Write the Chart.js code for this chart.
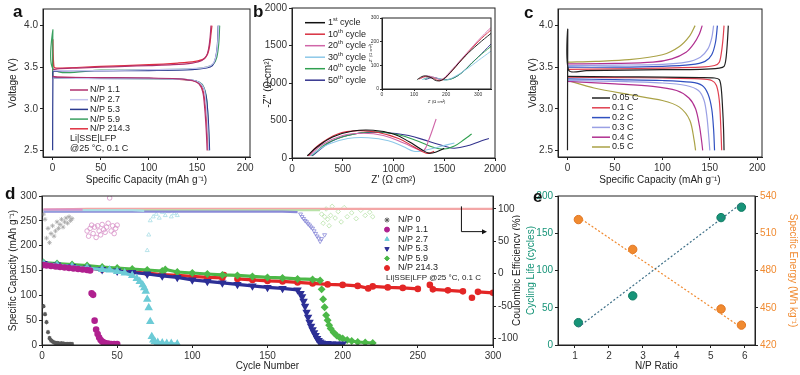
<!DOCTYPE html>
<html>
<head>
<meta charset="utf-8">
<script src="https://cdn.jsdelivr.net/npm/chart.js@4.4.0/dist/chart.umd.min.js"></script>
<style>
  body { margin: 0; background: #fff; width: 800px; height: 375px; overflow: hidden; position: relative; font-family: 'Liberation Sans', Arial, sans-serif; }
  .p { position: absolute; }
  .lbl { position: absolute; font-weight: bold; font-size: 17px; line-height: 17px; color: #111; }
</style>
</head>
<body>
<div class="p" style="left:0;top:0;width:258px;height:190px"><canvas id="ca"></canvas></div>
<div class="p" style="left:258px;top:0;width:262px;height:190px"><canvas id="cb"></canvas></div>
<div class="p" style="left:368px;top:14px;width:130px;height:90px"><canvas id="cbi"></canvas></div>
<div class="p" style="left:520px;top:0;width:280px;height:190px"><canvas id="cc"></canvas></div>
<div class="p" style="left:0;top:186px;width:520px;height:189px"><canvas id="cd"></canvas></div>
<div class="p" style="left:520px;top:186px;width:280px;height:189px"><canvas id="ce"></canvas></div>
<div class="lbl" style="left:13px;top:3px">a</div>
<div class="lbl" style="left:253px;top:3px">b</div>
<div class="lbl" style="left:524px;top:4px">c</div>
<div class="lbl" style="left:5px;top:185px">d</div>
<div class="lbl" style="left:533px;top:188px">e</div>
<script>
// ---------- data ----------
// panel a: 0.1 C charge / discharge curves, [capacity mAh/g, voltage V]
const aLabels = ['N/P 1.1', 'N/P 2.7', 'N/P 5.3', 'N/P 5.9', 'N/P 214.3'];
const aChg11 = [[0.5,3.47],[5,3.48],[25,3.49],[50,3.5],[75,3.51],[100,3.52],[125,3.53],[145,3.55],[155,3.58],[160,3.64],[162,3.72],[163.5,3.85],[164.5,4.0]];
const aDis11 = [[0,3.39],[5,3.38],[50,3.375],[100,3.37],[130,3.36],[145,3.34],[152,3.3],[156,3.2],[158,3.0],[159.5,2.75],[160.5,2.5]];
const aChg27 = [[0.5,3.46],[50,3.46],[100,3.47],[140,3.48],[160,3.5],[167,3.55],[170,3.65],[171.5,3.8],[172.5,4.0]];
const aDis27 = [[0,3.37],[50,3.36],[100,3.36],[140,3.35],[152,3.32],[157,3.25],[159,3.1],[161,2.8],[162,2.5]];
const aChg53 = [[0,2.5],[0.3,3.4],[1,3.45],[50,3.455],[100,3.46],[145,3.47],[160,3.49],[166,3.52],[169,3.6],[171,3.75],[172,4.0]];
const aDis53 = [[0,3.375],[50,3.37],[100,3.365],[140,3.35],[152,3.32],[157,3.25],[160,3.1],[162,2.8],[163,2.5]];
const aChg59 = [[0,3.38],[0.3,3.95],[1.2,3.47],[50,3.465],[100,3.47],[145,3.48],[160,3.5],[167,3.54],[170.5,3.62],[172.5,3.78],[173.5,4.0]];
const aDis59 = [[0,3.37],[50,3.365],[100,3.36],[140,3.35],[152,3.32],[157,3.26],[160,3.12],[161.5,2.85],[162.5,2.5]];
const aChg214 = [[0,3.36],[0.3,3.83],[1.5,3.5],[5,3.49],[50,3.51],[100,3.53],[130,3.55],[148,3.57],[157,3.6],[161,3.66],[163,3.75],[164.5,3.9],[165.5,4.0]];
const aDis214 = [[0,3.38],[50,3.37],[100,3.365],[135,3.35],[148,3.33],[154,3.28],[157,3.18],[159,3.0],[160.5,2.75],[161.5,2.5]];

// panel b: Nyquist plots, [Z', -Z'']
const bLabels = ['1^{st} cycle', '10^{th} cycle', '20^{th} cycle', '30^{th} cycle', '40^{th} cycle', '50^{th} cycle'];
const bCyc1 = [[150,30],[250,150],[400,280],[600,360],[800,370],[1000,320],[1150,220],[1280,110],[1350,65],[1420,80],[1500,130]];
const bCyc10 = [[160,30],[260,170],[450,320],[650,365],[850,340],[1050,260],[1200,150],[1300,75],[1340,60],[1400,90]];
const bCyc20 = [[170,30],[300,180],[500,300],[700,330],[900,300],[1100,200],[1250,110],[1300,100],[1350,250],[1420,520]];
const bCyc30 = [[180,30],[350,180],[550,260],[750,270],[950,230],[1100,150],[1200,90],[1300,100],[1450,150],[1600,200]];
const bCyc40 = [[190,30],[350,200],[550,300],[800,350],[1050,310],[1250,220],[1400,140],[1500,120],[1600,160],[1700,250],[1770,320]];
const bCyc50 = [[200,30],[400,230],[650,330],[900,340],[1150,300],[1350,220],[1500,160],[1600,130],[1750,170],[1850,220],[1940,260]];
// inset of b (high-frequency region)
const biCyc1 = [[110,40],[130,55],[150,50],[170,35],[190,40],[220,80],[260,140],[300,190],[340,235]];
const biCyc10 = [[115,42],[135,52],[160,45],[180,35],[200,50],[240,110],[300,200],[340,250]];
const biCyc20 = [[120,45],[140,55],[165,48],[185,40],[210,70],[250,130],[300,205],[340,260]];
const biCyc30 = [[125,40],[150,50],[175,45],[200,38],[230,55],[265,85],[300,120],[340,160]];
const biCyc40 = [[130,42],[155,50],[180,42],[210,40],[240,60],[270,95],[300,135],[340,180]];
const biCyc50 = [[135,40],[160,48],[190,40],[220,45],[250,70],[280,110],[300,135],[340,190]];

// panel c: rate capability, [capacity, voltage]
const cLabels = ['0.05 C', '0.1 C', '0.2 C', '0.3 C', '0.4 C', '0.5 C'];
const cChg005 = [[0,2.5],[0.3,3.95],[1.5,3.46],[20,3.46],[60,3.465],[100,3.47],[140,3.475],[160,3.49],[165,3.51],[167,3.6],[168.5,3.8],[169.5,4.0]];
const cDis005 = [[0,3.39],[50,3.385],[100,3.38],[140,3.375],[155,3.37],[160,3.35],[162,3.25],[163.5,3.0],[164.5,2.75],[165,2.5]];
const cChg01 = [[0.5,3.475],[50,3.48],[100,3.49],[140,3.5],[155,3.52],[160,3.56],[162.5,3.7],[164,3.85],[165,4.0]];
const cDis01 = [[0,3.38],[50,3.375],[100,3.37],[140,3.36],[152,3.34],[157,3.28],[160,3.1],[161.5,2.8],[162.5,2.5]];
const cChg02 = [[0.5,3.5],[50,3.5],[100,3.51],[130,3.53],[145,3.57],[152,3.65],[156,3.8],[158,4.0]];
const cDis02 = [[0,3.36],[50,3.35],[100,3.34],[130,3.32],[142,3.28],[148,3.18],[152,3.0],[154,2.75],[155,2.5]];
const cChg03 = [[0.5,3.52],[50,3.525],[100,3.535],[125,3.56],[140,3.62],[148,3.72],[152,3.85],[154,4.0]];
const cDis03 = [[0,3.34],[50,3.33],[100,3.31],[125,3.28],[138,3.22],[144,3.1],[147,2.9],[149,2.65],[150,2.5]];
const cChg04 = [[0.5,3.54],[50,3.545],[90,3.56],[110,3.6],[125,3.68],[133,3.78],[139,3.9],[142,4.0]];
const cDis04 = [[0,3.33],[50,3.3],[90,3.27],[115,3.22],[128,3.13],[135,3.0],[139,2.8],[141.5,2.6],[142.5,2.5]];
const cChg05 = [[0.5,3.56],[30,3.57],[65,3.59],[100,3.65],[118,3.75],[129,3.88],[134.5,4.0]];
const cDis05 = [[0,3.34],[28,3.25],[65,3.17],[100,3.1],[118,3.02],[129,2.86],[133.5,2.62],[135,2.5]];

// panel d: cycling, capacity [cycle, mAh/g] and coulombic efficiency [cycle, %]
const dLabels = ['N/P 0', 'N/P 1.1', 'N/P 2.7', 'N/P 5.3', 'N/P 5.9', 'N/P 214.3'];
const dCap0 = [[1,78],[2,62],[3,46],[4,26],[5,14],[6,9],[7,7],[8,5],[9,4],[10,4],[11,3],[12,3],[13,3],[14,3],[15,2],[16,2],[17,2],[18,2],[19,2],[20,2]];
const dCap11 = [[1,161],[3,160],[6,159],[9,158],[12,157],[15,156],[18,155],[21,154],[24,153],[27,152],[30,151],[32,150],[33,104],[34,101],[35,49],[36,31],[37,22],[38,15],[39,10],[40,7],[41,5],[42,4],[44,3],[46,2],[48,2],[50,2]];
const dCap27 = [[1,164],[10,161],[20,158],[30,155],[40,152],[45,151],[50,148],[55,145],[60,140],[63,134],[65,128],[67,121],[68,115],[69,108],[70,92],[71,75],[72,47],[73,17],[74,10],[75,7],[77,5],[80,4],[83,3],[86,3],[90,2]];
const dCap53 = [[1,164],[10,161],[20,158],[30,155],[40,152],[50,149],[60,146],[70,143],[80,139],[90,136],[100,131],[110,128],[120,125],[130,122],[140,119],[150,116],[160,114],[170,111],[172,104],[173,97],[174,88],[175,78],[176,66],[177,56],[178,46],[179,38],[180,31],[181,25],[182,19],[183,13],[184,9],[185,6],[186,4],[188,3],[190,3],[193,2],[196,2],[200,2]];
const dCap59 = [[1,166],[10,164],[20,162],[30,160],[40,157],[50,155],[60,153],[70,151],[80,149],[82,152],[90,147],[100,145],[110,143],[120,141],[130,140],[140,138],[150,136],[160,135],[170,133],[180,132],[185,130],[186,112],[187,92],[188,76],[189,60],[190,50],[191,40],[192,33],[194,25],[196,19],[198,15],[200,13],[203,10],[206,8],[210,6],[215,5],[220,4]];
const dCap214 = [[1,163],[10,160],[20,157],[30,155],[40,152],[50,150],[60,147],[70,145],[80,142],[90,140],[100,138],[110,136],[120,135],[121,141],[130,133],[140,131],[150,129],[160,128],[170,126],[180,124],[190,122],[200,121],[210,119],[217,114],[220,118],[230,116],[240,115],[250,113],[258,121],[260,112],[270,110],[280,108],[286,95],[290,107],[300,105]];
const dCeLine214 = [[1,99],[30,100],[60,100],[90,100],[120,100],[150,100],[180,100],[210,100],[240,100],[270,100],[300,100]];
const dCeLine53 = [[1,96],[40,96],[80,96],[120,96],[160,96],[170,95]];
const dCeLine59 = [[1,98],[60,98],[120,98],[185,98]];
const dCeLine27 = [[1,98],[20,98],[40,98],[60,98],[68,97]];
const dCeLine11 = [[1,99],[14,99],[27,99]];
const dCe0 = [[1,92],[2,84],[3,55],[4,70],[5,48],[6,62],[7,74],[8,58],[9,66],[10,80],[11,70],[12,76],[13,84],[14,72],[15,80],[16,86],[17,78],[18,88],[19,82],[20,85]];
const dCe11 = [[30,66],[31,58],[32,70],[33,75],[34,62],[35,72],[36,56],[37,74],[38,66],[39,60],[40,76],[41,68],[42,64],[43,72],[44,78],[45,117],[46,66],[47,74],[48,62],[49,70],[50,75]];
const dCe27 = [[70,36],[71,60],[72,82],[74,88],[76,92],[78,86],[80,95],[82,90],[84,96],[86,88],[88,93],[90,90]];
const dCe53 = [[172,92],[173,88],[174,85],[175,82],[176,80],[177,77],[178,75],[179,72],[180,70],[181,66],[182,62],[183,58],[184,55],[185,50],[186,54],[188,60]];
const dCe59 = [[186,92],[187,78],[188,88],[189,100],[190,84],[191,74],[192,90],[193,104],[195,86],[197,96],[199,80],[201,102],[203,88],[206,94],[209,85],[212,98],[215,90],[218,95],[220,88]];

// panel e: N/P ratio vs cycling life and specific energy
const npRatio = [1.1, 2.7, 5.3, 5.9];
const cycleLife = [30, 66, 171, 185];
const specEnergy = [521, 497, 449, 436];
const fitRatio = [1.1, 5.9];
const fitLife = [24, 190];
const fitEnergy = [523, 434];

// tick labels
const capTicks = [0, 50, 100, 150, 200];
const voltTicks = [2.5, 3.0, 3.5, 4.0];
const zTicks = [0, 500, 1000, 1500, 2000];
const zInsetTicks = [0, 100, 200, 300];
const cycleTicks = [0, 50, 100, 150, 200, 250, 300];
const dCapTicks = [0, 50, 100, 150, 200, 250, 300];
const ceTicks = [-100, -50, 0, 50, 100];
const ratioTicks = [1, 2, 3, 4, 5, 6];
const lifeTicks = [0, 50, 100, 150, 200];
const energyTicks = [420, 450, 480, 510, 540];

// ---------- helpers ----------
Chart.defaults.font.family = "'Liberation Sans', Arial, sans-serif";
Chart.defaults.font.size = 10;
Chart.defaults.color = '#333';
Chart.defaults.animation = false;
Chart.defaults.events = [];
Chart.defaults.plugins.legend.display = false;
Chart.defaults.plugins.tooltip.enabled = false;

const pts = arr => arr.map(p => ({ x: p[0], y: p[1] }));

// text with ^{sup} parts
function richText(ctx, str, x, y, size, color, align) {
  const parts = str.split(/(\^\{[^}]*\})/).filter(s => s.length);
  const segs = parts.map(s => s.startsWith('^{') ? { t: s.slice(2, -1), sup: true } : { t: s, sup: false });
  const font = sz => sz + "px 'Liberation Sans', Arial, sans-serif";
  let w = 0;
  segs.forEach(s => { ctx.font = font(s.sup ? size * 0.65 : size); s.w = ctx.measureText(s.t).width; w += s.w; });
  let cx = align === 'center' ? x - w / 2 : x;
  ctx.fillStyle = color;
  ctx.textBaseline = 'middle';
  ctx.textAlign = 'left';
  segs.forEach(s => {
    ctx.font = font(s.sup ? size * 0.65 : size);
    ctx.fillText(s.t, cx, s.sup ? y - size * 0.35 : y);
    cx += s.w;
  });
}

const framePlugin = {
  id: 'frame',
  afterDraw(c) {
    const a = c.chartArea, ctx = c.ctx;
    ctx.save();
    ctx.strokeStyle = '#222';
    ctx.lineWidth = 1;
    ctx.strokeRect(a.left, a.top, a.right - a.left, a.bottom - a.top);
    ctx.restore();
  }
};

const legendPlugin = {
  id: 'inLegend',
  afterDatasetsDraw(c, args, o) {
    if (!o || !o.items) return;
    const ctx = c.ctx, a = c.chartArea;
    const x0 = a.left + o.dx;
    let y = a.top + o.dy;
    ctx.save();
    for (const it of o.items) {
      if (it.pointStyle) {
        ctx.fillStyle = it.color;
        ctx.strokeStyle = it.color;
        Chart.helpers.drawPoint(ctx, { pointStyle: it.pointStyle, rotation: it.rotation || 0, radius: 2.5, borderWidth: 1 }, x0 + o.len / 2, y);
      } else {
        ctx.strokeStyle = it.color;
        ctx.lineWidth = 1.5;
        ctx.beginPath();
        ctx.moveTo(x0, y);
        ctx.lineTo(x0 + o.len, y);
        ctx.stroke();
      }
      richText(ctx, it.text, x0 + o.len + o.gap, y, o.fs, '#222', 'left');
      y += o.rowH;
    }
    for (const n of (o.notes || [])) {
      richText(ctx, n, x0 + o.notesDx, y, o.notesFs || o.fs, '#222', 'left');
      y += o.rowH;
    }
    ctx.restore();
  }
};

const sideTitlePlugin = {
  id: 'sideTitle',
  afterDraw(c, args, o) {
    if (!o || !o.text) return;
    const ctx = c.ctx, a = c.chartArea;
    ctx.save();
    ctx.translate(a.right + o.dx, (a.top + a.bottom) / 2);
    ctx.rotate(o.dir * Math.PI / 2);
    ctx.font = "10px 'Liberation Sans', Arial, sans-serif";
    ctx.fillStyle = o.color;
    ctx.textAlign = 'center';
    ctx.textBaseline = 'middle';
    ctx.fillText(o.text, 0, 0);
    ctx.restore();
  }
};

Chart.register(framePlugin, legendPlugin, sideTitlePlugin);

function axis(o) {
  const isX = o.axis === 'x';
  return {
    type: 'linear',
    position: o.pos || (isX ? 'bottom' : 'left'),
    min: o.min, max: o.max,
    afterBuildTicks: s => { s.ticks = o.ticks.map(v => ({ value: v })); },
    afterFit: s => { if (isX) s.height = o.size; else s.width = o.size; },
    ticks: {
      color: o.tickColor || '#333', font: { size: o.fs || 10 }, padding: o.tp === undefined ? 2 : o.tp,
      maxRotation: 0, autoSkip: false, callback: o.fmt || (v => String(v))
    },
    grid: { drawOnChartArea: false, drawTicks: true, tickLength: o.tl || 3, color: '#222', lineWidth: 1 },
    border: { color: '#222', width: 1 },
    title: o.title ? {
      display: true, text: o.title, color: o.titleColor || '#222', font: { size: o.tfs || 10 },
      padding: { top: o.titlePad, bottom: o.titlePad }
    } : { display: false }
  };
}

function curve(data, color, width) {
  return { data: pts(data), showLine: true, borderColor: color, backgroundColor: color, borderWidth: width || 1.2, pointRadius: 0, tension: 0.3 };
}

// ---------- panel a ----------
const aColors = ['#b0306e', '#c4c4ee', '#2b3a8f', '#3aa060', '#e03040'];
const aPairs = [[aChg11, aDis11], [aChg27, aDis27], [aChg53, aDis53], [aChg59, aDis59], [aChg214, aDis214]];
const aSets = [];
aPairs.forEach((pr, i) => { aSets.push(curve(pr[0], aColors[i])); aSets.push(curve(pr[1], aColors[i])); });

new Chart(document.getElementById('ca'), {
  type: 'scatter',
  data: { datasets: aSets },
  options: {
    responsive: true, maintainAspectRatio: false,
    layout: { padding: { top: 9, right: 8, left: 0, bottom: 0 } },
    scales: {
      x: axis({ axis: 'x', min: -10, max: 205, ticks: capTicks, size: 33, title: 'Specific Capacity (mAh g⁻¹)', titlePad: 4 }),
      y: axis({ min: 2.42, max: 4.2, ticks: voltTicks, size: 43, fmt: v => v.toFixed(1), title: 'Voltage (V)', titlePad: 7 })
    },
    plugins: {
      inLegend: {
        dx: 27, dy: 81, rowH: 9.7, len: 18, gap: 2, fs: 9, notesDx: 0,
        items: aLabels.map((t, i) => ({ text: t, color: aColors[i] })),
        notes: ['Li|SSE|LFP', '@25 °C, 0.1 C']
      }
    }
  }
});

// ---------- panel b ----------
const bColors = ['#111111', '#d83040', '#d066a8', '#8cc8e8', '#30a050', '#34348e'];
const bData = [bCyc1, bCyc10, bCyc20, bCyc30, bCyc40, bCyc50];
new Chart(document.getElementById('cb'), {
  type: 'scatter',
  data: { datasets: bData.map((d, i) => ({ ...curve(d, bColors[i], 1.1), tension: 0.4 })) },
  options: {
    responsive: true, maintainAspectRatio: false,
    layout: { padding: { top: 8, right: 25, left: 0, bottom: 0 } },
    scales: {
      x: axis({ axis: 'x', min: 0, max: 2000, ticks: zTicks, size: 32, title: "Z' (Ω cm²)", titlePad: 4 }),
      y: axis({ min: 0, max: 2000, ticks: zTicks, size: 34, title: "-Z'' (Ω cm²)", titlePad: 4 })
    },
    plugins: {
      inLegend: {
        dx: 13, dy: 14.7, rowH: 11.5, len: 20, gap: 3, fs: 9, notesDx: 0,
        items: bLabels.map((t, i) => ({ text: t, color: bColors[i] }))
      }
    }
  }
});

const biData = [biCyc1, biCyc10, biCyc20, biCyc30, biCyc40, biCyc50];
new Chart(document.getElementById('cbi'), {
  type: 'scatter',
  data: { datasets: biData.map((d, i) => ({ ...curve(d, bColors[i], 0.9), tension: 0.4 })) },
  options: {
    responsive: true, maintainAspectRatio: false,
    layout: { padding: { top: 1, right: 7, left: 0, bottom: 0 } },
    scales: {
      x: axis({ axis: 'x', min: 0, max: 340, ticks: zInsetTicks, size: 15, fs: 5, tl: 2, tp: 1, title: "Z' (Ω cm²)", tfs: 4, titlePad: 0 }),
      y: axis({ min: 0, max: 300, ticks: zInsetTicks, size: 14, fs: 5, tl: 2, tp: 1, title: "-Z'' (Ω cm²)", tfs: 4, titlePad: 0 })
    }
  }
});

// ---------- panel c ----------
const cColors = ['#222222', '#e04050', '#3050c0', '#9aa0e4', '#b03090', '#aaa246'];
const cPairs = [[cChg005, cDis005], [cChg01, cDis01], [cChg02, cDis02], [cChg03, cDis03], [cChg04, cDis04], [cChg05, cDis05]];
const cSets = [];
cPairs.forEach((pr, i) => { cSets.push(curve(pr[0], cColors[i])); cSets.push(curve(pr[1], cColors[i])); });
new Chart(document.getElementById('cc'), {
  type: 'scatter',
  data: { datasets: cSets },
  options: {
    responsive: true, maintainAspectRatio: false,
    layout: { padding: { top: 9, right: 38, left: 0, bottom: 0 } },
    scales: {
      x: axis({ axis: 'x', min: -10, max: 205, ticks: capTicks, size: 33, title: 'Specific Capacity (mAh g⁻¹)', titlePad: 4 }),
      y: axis({ min: 2.42, max: 4.2, ticks: voltTicks, size: 38, fmt: v => v.toFixed(1), title: 'Voltage (V)', titlePad: 7 })
    },
    plugins: {
      inLegend: {
        dx: 34, dy: 89, rowH: 9.8, len: 18, gap: 2, fs: 9, notesDx: 0,
        items: cLabels.map((t, i) => ({ text: t, color: cColors[i] }))
      }
    }
  }
});

// ---------- panel d ----------
const dColors = ['#5a5a5a', '#b0208f', '#6ccbd6', '#2c2f96', '#4cb848', '#e32626'];
const dCeColors = ['#a8a8a8', '#d890c8', '#a8dde6', '#8a8ad8', '#b8e2a8', '#f3a6a6'];
const dStyles = [['star', 0], ['circle', 0], ['triangle', 0], ['triangle', 180], ['rectRot', 0], ['circle', 0]];
const dCaps = [dCap0, dCap11, dCap27, dCap53, dCap59, dCap214];
const dCeLines = [null, dCeLine11, dCeLine27, dCeLine53, dCeLine59, dCeLine214];
const dCeScatter = [dCe0, dCe11, dCe27, dCe53, dCe59, null];
const dSets = [];
dCeLines.forEach((d, i) => {
  if (d) dSets.push({ data: pts(d), yAxisID: 'y1', showLine: true, borderColor: dCeColors[i], borderWidth: 2.2, pointRadius: 0 });
});
dCeScatter.forEach((d, i) => {
  if (d) dSets.push({ data: pts(d), yAxisID: 'y1', showLine: false, pointStyle: dStyles[i][0], rotation: dStyles[i][1],
    pointRadius: 2.3, borderWidth: 0.8, borderColor: dCeColors[i], backgroundColor: 'rgba(255,255,255,0)' });
});
dCaps.forEach((d, i) => {
  const col = dColors[i];
  dSets.push({
    data: pts(d), yAxisID: 'y', showLine: true, borderColor: col, borderWidth: 3.2,
    segment: { borderColor: ctx => Math.abs(ctx.p1.parsed.y - ctx.p0.parsed.y) > 5 ? 'rgba(0,0,0,0)' : col },
    pointStyle: dStyles[i][0], rotation: dStyles[i][1], pointRadius: 1.7, backgroundColor: col
  });
});

const arrowPlugin = {
  id: 'ceArrow',
  afterDatasetsDraw(c) {
    const x = c.scales.x, y1 = c.scales.y1, ctx = c.ctx;
    const xa = x.getPixelForValue(279), xb = x.getPixelForValue(296);
    const ya = y1.getPixelForValue(104), yb = y1.getPixelForValue(65);
    ctx.save();
    ctx.strokeStyle = '#111';
    ctx.fillStyle = '#111';
    ctx.lineWidth = 1;
    ctx.beginPath();
    ctx.moveTo(xa, ya); ctx.lineTo(xa, yb); ctx.lineTo(xb - 3, yb);
    ctx.stroke();
    ctx.beginPath();
    ctx.moveTo(xb, yb); ctx.lineTo(xb - 5, yb - 2.5); ctx.lineTo(xb - 5, yb + 2.5); ctx.closePath();
    ctx.fill();
    ctx.restore();
  }
};

new Chart(document.getElementById('cd'), {
  type: 'scatter',
  data: { datasets: dSets },
  options: {
    responsive: true, maintainAspectRatio: false,
    layout: { padding: { top: 10, right: 0, left: 0, bottom: 0 } },
    scales: {
      x: axis({ axis: 'x', min: 0, max: 300, ticks: cycleTicks, size: 30, title: 'Cycle Number', titlePad: 3 }),
      y: axis({ min: 0, max: 300, ticks: dCapTicks, size: 42, title: 'Specific Capacity (mAh g⁻¹)', titlePad: 7 }),
      y1: axis({ pos: 'right', min: -110, max: 120, ticks: ceTicks, size: 27 })
    },
    plugins: {
      inLegend: {
        dx: 340, dy: 24, rowH: 9.6, len: 10, gap: 6, fs: 9, notesDx: 4, notesFs: 8,
        items: dLabels.map((t, i) => ({ text: t, color: dColors[i], pointStyle: dStyles[i][0], rotation: dStyles[i][1] })),
        notes: ['Li|SSE|LFP @25 °C, 0.1 C']
      },
      sideTitle: { text: 'Coulombic Efficiency (%)', color: '#222', dx: 24, dir: -1 }
    }
  },
  plugins: [arrowPlugin]
});

// ---------- panel e ----------
const teal = '#169478';
const orange = '#f08a30';
new Chart(document.getElementById('ce'), {
  type: 'scatter',
  data: {
    datasets: [
      { data: fitRatio.map((r, i) => ({ x: r, y: fitLife[i] })), yAxisID: 'y', showLine: true, borderColor: '#3d6f87', borderWidth: 1.2, borderDash: [2, 2], pointRadius: 0 },
      { data: fitRatio.map((r, i) => ({ x: r, y: fitEnergy[i] })), yAxisID: 'y1', showLine: true, borderColor: orange, borderWidth: 1.2, borderDash: [2, 2], pointRadius: 0 },
      { data: npRatio.map((r, i) => ({ x: r, y: cycleLife[i] })), yAxisID: 'y', pointRadius: 4.2, backgroundColor: teal, borderColor: '#0f7a62', borderWidth: 1 },
      { data: npRatio.map((r, i) => ({ x: r, y: specEnergy[i] })), yAxisID: 'y1', pointRadius: 4.2, backgroundColor: orange, borderColor: '#e07420', borderWidth: 1 }
    ]
  },
  options: {
    responsive: true, maintainAspectRatio: false,
    layout: { padding: { top: 10, right: 0, left: 0, bottom: 0 } },
    scales: {
      x: axis({ axis: 'x', min: 0.5, max: 6.3, ticks: ratioTicks, size: 30, title: 'N/P Ratio', titlePad: 3 }),
      y: axis({ min: 0, max: 200, ticks: lifeTicks, size: 38, tickColor: teal, title: 'Cycling Life (cycles)', titleColor: teal, titlePad: 5 }),
      y1: axis({ pos: 'right', min: 420, max: 540, ticks: energyTicks, size: 45, tickColor: orange })
    },
    plugins: {
      sideTitle: { text: 'Specific Energy (Wh kg⁻¹)', color: orange, dx: 38, dir: 1 }
    }
  }
});
</script>
</body>
</html>
